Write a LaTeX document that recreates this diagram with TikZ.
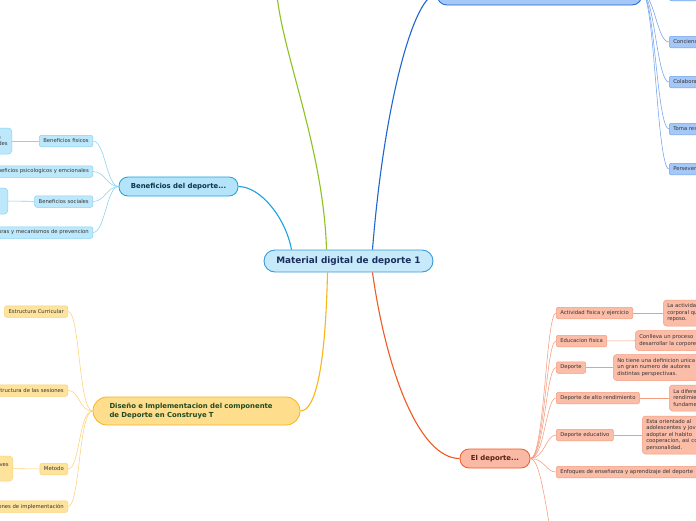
\documentclass[tikz,border=0pt]{standalone}
\usepackage{fontspec}
\setmainfont{DejaVu Sans}
\usetikzlibrary{calc,positioning}
\definecolor{RootFill}{HTML}{C7EAFB}
\definecolor{RootLine}{HTML}{3A9AD9}
\definecolor{RootText}{HTML}{1B2D5C}
\definecolor{SkyLine}{HTML}{1AA3E0}
\definecolor{SkyFill}{HTML}{B3E4FA}
\definecolor{SkyText}{HTML}{0E3345}
\definecolor{SkySub}{HTML}{BDE8FB}
\definecolor{SkySubLine}{HTML}{86D3F4}
\definecolor{LeafGreen}{HTML}{8DC21F}
\definecolor{OceanLine}{HTML}{1F66D1}
\definecolor{OceanFill}{HTML}{A6C8F8}
\definecolor{OceanSubLine}{HTML}{72A3EC}
\definecolor{SunLine}{HTML}{F9B51A}
\definecolor{SunFill}{HTML}{FEDD8D}
\definecolor{SunText}{HTML}{1F4A22}
\definecolor{SunSub}{HTML}{FEE39C}
\definecolor{SunSubLine}{HTML}{FCD27A}
\definecolor{FlameLine}{HTML}{F15A24}
\definecolor{FlameFill}{HTML}{F9B9A4}
\definecolor{FlameText}{HTML}{5C1F10}
\definecolor{FlameSub}{HTML}{FBBDA8}
\definecolor{FlameSubLine}{HTML}{F59C7E}
\definecolor{SubText}{HTML}{333333}
\tikzset{
  root/.style={draw=RootLine, fill=RootFill, line width=0.9pt, rounded corners=11pt,
    minimum width=169pt, minimum height=22pt, inner sep=0pt, text=RootText,
    font=\bfseries\fontsize{8.9}{10}\selectfont},
  topic/.style={line width=0.8pt, rounded corners=9pt, inner sep=0pt,
    font=\bfseries\fontsize{6.9}{9}\selectfont},
  sub/.style={line width=0.5pt, rounded corners=2pt, inner xsep=4pt, inner ysep=0pt,
    minimum height=11.5pt, text=SubText, font=\fontsize{5.3}{6.5}\selectfont},
  leaf/.style={sub, align=left, rounded corners=3.5pt, inner xsep=4pt, inner ysep=1.5pt},
  skybox/.style={draw=SkySubLine, fill=SkySub},
  oceanbox/.style={draw=OceanSubLine, fill=OceanFill},
  sunbox/.style={draw=SunSubLine, fill=SunSub},
  flamebox/.style={draw=FlameSubLine, fill=FlameSub},
  branch/.style={line width=1.1pt},
  twig/.style={line width=0.55pt}
}

\begin{document}
\begin{tikzpicture}[x=1pt,y=-1pt]
  \useasboundingbox (0,0) rectangle (696,520);
  \fill[white] (0,0) rectangle (696,520);
  \clip (0,0) rectangle (696,520);

  \node[root] (mat) at (348.5,261) {Material digital de deporte 1};

  \node[topic, draw=SkyLine, fill=SkyFill, text=SkyText, minimum width=119pt, minimum height=19pt] (ben) at (178.5,186.5) {Beneficios del deporte...};
  \node[topic, draw=OceanLine, fill=OceanFill, minimum width=205pt, minimum height=22pt, rounded corners=10pt] (blu) at (539.5,-6) {};
  \node[topic, draw=SunLine, fill=SunFill, text=SunText, minimum width=207pt, minimum height=28pt, rounded corners=14pt, align=left, text width=174pt] (dis) at (196.5,411) {Diseño e Implementacion del componente\\de Deporte en Construye T};
  \node[topic, draw=FlameLine, fill=FlameFill, text=FlameText, minimum width=70pt, minimum height=19pt] (dep) at (495,458.5) {El deporte...};
  \coordinate (gtop) at (277,-5);

  \draw[branch, LeafGreen] ($(mat.north)+(-22,0)$) .. controls +(-3,-100) and +(6,60) .. (gtop);
  \draw[branch, SkyLine] ($(mat.north)+(-57,0)$) .. controls +(-6,-32) and +(22,0) .. (ben.east);
  \draw[branch, OceanLine] ($(mat.north)+(24,0)$) .. controls +(12,-150) and +(-22,0) .. (blu.west);
  \draw[branch, SunLine] ($(mat.south)+(-21,0)$) .. controls +(-2,90) and +(16,0) .. (dis.east);
  \draw[branch, FlameLine] ($(mat.south)+(24,0)$) .. controls +(14,100) and +(-40,0) .. (dep.west);

  \node[sub, oceanbox, anchor=west, minimum width=40pt] (c1) at (669,-5) {};
  \node[sub, oceanbox, anchor=west] (c2) at (669,42) {Conciencia};
  \node[sub, oceanbox, anchor=west] (c3) at (669,82) {Colaboracion};
  \node[sub, oceanbox, anchor=west] (c4) at (669,129) {Toma responsable};
  \node[sub, oceanbox, anchor=west] (c5) at (669,169) {Perseverancia};
  \foreach \k in {c1,c2,c3,c4,c5}
    \draw[twig, OceanSubLine] (blu.east) .. controls +(12,0) and +(-12,0) .. (\k.west);

  \node[sub, skybox, anchor=east] (b1) at (93,141) {Beneficios fisicos};
  \node[sub, skybox, anchor=east] (b2) at (93,171.5) {Beneficios psicologicos y emcionales};
  \node[sub, skybox, anchor=east] (b3) at (93,201.5) {Beneficios sociales};
  \node[sub, skybox, anchor=east] (b4) at (93,232.5) {Estructuras y mecanismos de prevencion};
  \node[leaf, skybox, anchor=east, minimum height=26pt] (bl1) at (12,141) {Mejora de\\capacidades};
  \node[leaf, skybox, anchor=east, minimum height=26pt, minimum width=40pt] (bl3) at (8,201) {};
  \foreach \k in {b1,b2,b3,b4}
    \draw[twig, SkySubLine] (ben.west) .. controls +(-12,0) and +(12,0) .. (\k.east);
  \draw[twig, SkySubLine] (b1) -- (bl1);
  \draw[twig, SkySubLine] (b3) -- (bl3);

  \node[sub, sunbox, anchor=east] (y1) at (68,311.5) {Estructura Curricular};
  \node[sub, sunbox, anchor=east] (y2) at (68,390.5) {Estructura de las sesiones};
  \node[sub, sunbox, anchor=east] (y3) at (68,469) {Metodo};
  \node[sub, sunbox, anchor=east] (y4) at (68,506.5) {Condiciones de implementación};
  \node[leaf, sunbox, anchor=east, minimum height=25pt] (yl3) at (13,468.5) {Ideas claves\\y juegos};
  \foreach \k in {y1,y2,y3,y4}
    \draw[twig, SunSubLine] (dis.west) .. controls +(-14,0) and +(12,0) .. (\k.east);
  \draw[twig, SunSubLine] (y3) -- (yl3);

  \node[sub, flamebox, anchor=west] (o1) at (556,313) {Actividad fisica y ejercicio};
  \node[sub, flamebox, anchor=west] (o2) at (556,341) {Educacion fisica};
  \node[sub, flamebox, anchor=west] (o3) at (556,367.5) {Deporte};
  \node[sub, flamebox, anchor=west] (o4) at (556,398) {Deporte de alto rendimiento};
  \node[sub, flamebox, anchor=west] (o5) at (556,435) {Deporte educativo};
  \node[sub, flamebox, anchor=west] (o6) at (556,472) {Enfoques de enseñanza y aprendizaje del deporte};
  \coordinate (o7) at (560,560);
  \node[leaf, flamebox, anchor=west, minimum height=26pt, text width=110pt] (ol1) at (663,313) {La actividad\\corporal que\\reposo.};
  \node[leaf, flamebox, anchor=west, minimum height=20pt, text width=110pt] (ol2) at (635,340.5) {Conlleva un proceso\\desarrollar la corporeidad};
  \node[leaf, flamebox, anchor=west, minimum height=26pt, text width=110pt] (ol3) at (613,367.5) {No tiene una definicion unica\\un gran numero de autores\\distintas perspectivas.};
  \node[leaf, flamebox, anchor=west, minimum height=26pt, text width=110pt] (ol4) at (669,398) {La diferencia\\rendimiento\\fundamental};
  \node[leaf, flamebox, anchor=west, minimum height=38pt, text width=110pt] (ol5) at (642,435) {Esta orientado al\\adolescentes y jovenes\\adoptar el habito\\cooperacion, asi como\\personalidad.};
  \foreach \k in {o1,o2,o3,o4,o5,o6}
    \draw[twig, FlameSubLine] (dep.east) .. controls +(14,0) and +(-10,0) .. (\k.west);
  \draw[twig, FlameSubLine] (dep.east) .. controls +(14,0) and +(-10,0) .. (o7);
  \foreach \k in {1,...,5}
    \draw[twig, FlameSubLine] (o\k) -- (ol\k);
\end{tikzpicture}
\end{document}
